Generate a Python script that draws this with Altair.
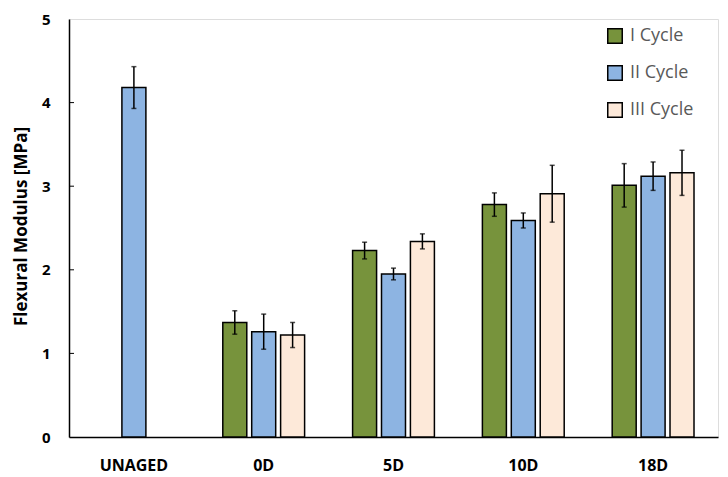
import altair as alt
import pandas as pd

categories = ["UNAGED", "0D", "5D", "10D", "18D"]
series = ["I Cycle", "II Cycle", "III Cycle"]
colors = ["#77933C", "#8DB4E2", "#FDE9D9"]

group = ["UNAGED", "0D", "0D", "0D", "5D", "5D", "5D", "10D", "10D", "10D", "18D", "18D", "18D"]
cycle = ["II Cycle", "I Cycle", "II Cycle", "III Cycle", "I Cycle", "II Cycle", "III Cycle",
         "I Cycle", "II Cycle", "III Cycle", "I Cycle", "II Cycle", "III Cycle"]
modulus = [4.18, 1.37, 1.26, 1.22, 2.23, 1.95, 2.34, 2.78, 2.59, 2.91, 3.01, 3.12, 3.16]
err = [0.25, 0.14, 0.21, 0.15, 0.10, 0.07, 0.09, 0.14, 0.09, 0.34, 0.26, 0.17, 0.27]
yticks = [1, 2, 3, 4]

df = pd.DataFrame({"group": group, "cycle": cycle, "value": modulus, "err": err})
df["lo"] = df["value"] - df["err"]
df["hi"] = df["value"] + df["err"]

FONT = "Open Sans"

xenc = alt.X("group:N", sort=categories, title=None,
             scale=alt.Scale(paddingInner=0, paddingOuter=0),
             axis=alt.Axis(labelAngle=0, labelFontWeight="bold", labelFontSize=16,
                           labelColor="#000000", labelPadding=20, ticks=False,
                           domainColor="#000000", domainWidth=1.5, labelFont=FONT))
xoff = alt.XOffset("cycle:N", sort=series,
                   scale=alt.Scale(domain=series, paddingInner=0.17, paddingOuter=0.83))

yscale = alt.Scale(domain=[0, 5], nice=False)

bars = alt.Chart(df).mark_bar(stroke="#000000", strokeWidth=1.5).encode(
    x=xenc,
    xOffset=xoff,
    y=alt.Y("value:Q", scale=yscale, title="Flexural Modulus [MPa]",
            axis=alt.Axis(values=[0, 1, 2, 3, 4, 5], format="d", ticks=False, grid=False,
                          labelFontWeight="bold", labelFontSize=15, labelColor="#000000",
                          labelPadding=19, domainColor="#000000", domainWidth=1.5,
                          labelFlush=False, labelOverlap=False,
                          titleFontWeight="bold", titleFontSize=17, titleColor="#000000",
                          titleX=-56, titleY=207, titleBaseline="top", titleAlign="center",
                          titleAngle=-90, labelFont=FONT, titleFont=FONT)),
    color=alt.Color("cycle:N", sort=series,
                    scale=alt.Scale(domain=series, range=colors),
                    legend=alt.Legend(title=None, orient="none", legendX=537, legendY=8,
                                      symbolType="square", symbolSize=210,
                                      symbolStrokeColor="#000000", symbolStrokeWidth=1.5,
                                      labelFontSize=18, labelColor="#595959", labelFont=FONT,
                                      rowPadding=15, labelOffset=6)),
)

rules = alt.Chart(df).mark_rule(color="#000000", strokeWidth=1.5).encode(
    x=alt.X("group:N", sort=categories),
    xOffset=xoff,
    y=alt.Y("lo:Q", scale=yscale),
    y2="hi:Q",
)
caps_hi = alt.Chart(df).mark_tick(color="#000000", thickness=1.5, size=5, orient="horizontal").encode(
    x=alt.X("group:N", sort=categories),
    xOffset=xoff,
    y=alt.Y("hi:Q", scale=yscale),
)
caps_lo = alt.Chart(df).mark_tick(color="#000000", thickness=1.5, size=5, orient="horizontal").encode(
    x=alt.X("group:N", sort=categories),
    xOffset=xoff,
    y=alt.Y("lo:Q", scale=yscale),
)

tick_df = pd.DataFrame({"t": yticks})
ticks = alt.Chart(tick_df).mark_rule(color="#000000", strokeWidth=1).encode(
    x=alt.value(0), x2=alt.value(5),
    y=alt.Y("t:Q", scale=yscale),
)

chart = alt.layer(bars, rules, caps_hi, caps_lo, ticks).properties(
    width=649, height=418,
    autosize=alt.AutoSizeParams(type="none"),
    padding={"left": 61, "top": 11, "right": 2, "bottom": 40},
).configure_view(stroke="#000000", strokeWidth=1.5).configure(background="#ffffff")

chart.save("out.html", embed_options={"renderer": "svg", "actions": False})
